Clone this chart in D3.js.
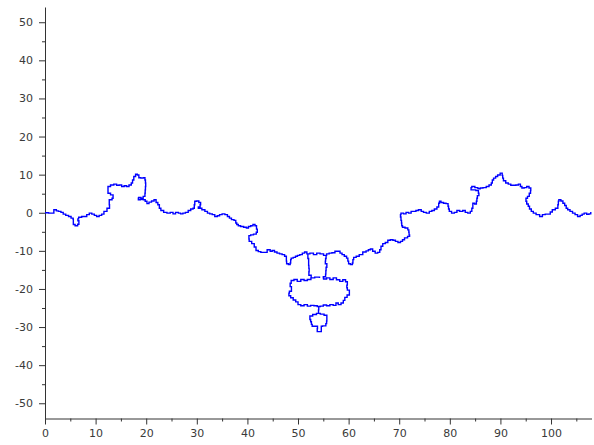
<!DOCTYPE html>
<html>
<head>
<meta charset="utf-8">
<script src="https://cdn.jsdelivr.net/npm/d3@7"></script>
<style>
  html, body { margin: 0; padding: 0; background: #fff; }
  svg { display: block; }
  .tick text { font-family: "DejaVu Sans", sans-serif; font-size: 11px; fill: #3a3a3a; }
</style>
</head>
<body>
<svg id="chart" width="594" height="445"></svg>
<script>
// Axis ranges and tick labels
const xDomain = [0, 108];
const yDomain = [-54, 54];
const xTicks = [0, 10, 20, 30, 40, 50, 60, 70, 80, 90, 100];
const xMinorTicks = [5, 15, 25, 35, 45, 55, 65, 75, 85, 95, 105];
const yTicks = [-50, -40, -30, -20, -10, 0, 10, 20, 30, 40, 50];
const yMinorTicks = [-45, -35, -25, -15, -5, 5, 15, 25, 35, 45];

// The curve, piece by piece, as [x, y] points
const westArm = [
  [0,0],[1.4,-0.1],[2.1,0.8],[2.4,0.5],[2.9,0.35],[3.4,0.1],[3.8,-0.35],[4.4,-0.7],[4.9,-1.0],[5.4,-1.4],
  [5.7,-1.7],[5.5,-2.3],[5.7,-3.1],[6.2,-3.4],[6.7,-3.0],[6.7,-2.1],[6.3,-1.6],[7.0,-1.2],[7.5,-1.0],[8.0,-1.0],
  [8.5,-0.5],[9.0,-0.1],[9.5,-0.35],[10.0,-0.7],[10.4,-1.0],[11.0,-0.7],[11.4,-0.35],[11.9,0.35],[12.6,1.2],[12.9,2.1],
  [12.5,2.5],[12.9,3.4],[13.6,3.8],[13.3,4.7],[12.6,5.1],[12.3,6.0],[12.6,6.9],[13.3,7.3],[13.9,7.5],[14.4,7.2],
  [14.9,7.3],[15.4,6.9],[15.9,7.1],[16.3,6.9],[16.9,7.3],[17.2,7.8],[17.4,8.6],[17.7,9.5],[18.1,10.1],[18.4,9.9],
  [18.7,9.2],[19.2,9.1],[19.6,9.2],[19.9,8.6],[19.8,7.8],[20.0,6.9],[19.7,6.0],[19.9,5.1],[19.6,4.3],[19.2,3.8],
  [18.7,4.0],[18.3,3.8],[18.6,3.4],[19.2,3.5],[19.6,3.4],[20.0,3.0],[20.3,2.4],[20.8,2.8],[21.3,3.1],[21.8,3.4],
  [22.1,2.7],[22.5,2.1],[22.7,1.2],[23.1,0.6],[23.8,0.1],[24.4,-0.1],[25.1,0.1],[25.5,-0.3],[26.1,0.1],[26.6,-0.1],
  [27.0,-0.3],[27.5,-0.1],[28.0,0.1],[28.6,0.6],[29.0,1.0],[29.5,1.2],[29.5,2.1],[29.7,3.0],[30.1,3.1],[30.7,2.7],
  [30.8,2.1],[30.5,1.5],[30.1,1.2],[30.7,1.2],[31.3,0.8],[31.9,0.35],[32.3,-0.1],[32.8,-0.3],[33.3,-0.5],[33.8,-1.0],
  [34.3,-0.8],[34.7,-0.5],[35.3,-0.3],[35.8,-0.5],[36.3,-1.0],[36.6,-1.4],[37.1,-1.8],[37.6,-2.0],[37.8,-2.7],[38.0,-3.1],
  [38.4,-3.4],[38.9,-3.6],[39.6,-3.8],[40.0,-4.0],[40.4,-3.6],[40.9,-3.4],[41.3,-3.1],[41.7,-3.4],[41.9,-4.3],[42.0,-5.1],
  [41.5,-5.6],[40.9,-5.8],[40.4,-6.0],[40.2,-6.9],[40.5,-7.5],[41.2,-8.1],[41.5,-9.0],[41.9,-9.9],[42.4,-10.2],[42.9,-10.4],
  [43.5,-10.4],[44.3,-9.7],[44.7,-10.1],[45.1,-9.9],[45.6,-10.3],[46.1,-10.6],[46.6,-10.8],[47.1,-11.0],[47.6,-11.4],[47.8,-12.0],
  [47.6,-12.7],[47.9,-13.4],[48.3,-13.6],[48.6,-13.2],[48.5,-12.3],[48.8,-11.9],[49.3,-11.7],[49.7,-11.4],[50.1,-11.2],[50.6,-11.0],
  [51.1,-10.6],[51.5,-10.3],[52.0,-10.8]
];

// Hanging structure under the middle: bridge, cloud, stem and pendant loops
const centreBridge = [
  [52.7,-10.6],[53.4,-11.0],[54.0,-10.6],[54.7,-10.8],[55.4,-11.2],
  [55.7,-12.0],[55.2,-12.7],[55.6,-13.4],[55.8,-14.3],[55.3,-15.2],[55.7,-16.1],[55.2,-16.8],[54.8,-17.1]
];
const centreCloud = [
  [55.3,-17.4],[56.0,-17.1],[56.6,-17.5],[57.3,-17.1],[57.9,-17.6],[58.6,-18.0],[59.1,-17.6],[59.7,-18.1],[59.8,-19.0],[59.5,-19.7],
  [60.0,-20.3],[60.3,-21.0],[60.0,-21.6],[59.4,-22.2],[59.1,-23.0],[58.8,-23.7],[58.2,-24.1],[57.7,-23.7],[57.3,-24.3],[56.6,-24.1],
  [56.0,-24.4],[55.3,-24.2],[54.7,-24.5],[54.1,-24.6],
  [54.1,-25.5],[54.0,-26.4],[54.8,-26.6],[55.5,-26.9],[55.9,-27.7],[55.5,-28.4],[55.8,-29.1],[55.2,-29.7],[54.5,-29.8],
  [54.7,-30.4],[54.5,-31.2],[53.9,-31.2],[53.7,-30.4],[54.0,-29.8],
  [53.1,-29.8],[52.5,-29.3],[52.8,-28.6],[52.2,-28.0],[52.5,-27.1],[53.3,-26.7],[54.0,-26.4],[54.1,-25.5],[54.1,-24.6],
  [53.5,-24.4],[52.8,-24.3],[52.2,-24.5],[51.5,-24.1],[50.9,-24.4],[50.2,-24.1],[49.8,-23.4],[49.3,-22.9],[48.8,-22.3],[48.3,-21.8],
  [48.1,-21.1],[48.5,-20.6],[48.9,-20.1],[48.5,-19.4],[48.4,-18.5],[48.9,-17.8],[49.5,-17.5],[50.2,-18.0],[50.9,-17.5],[51.5,-17.8],
  [52.2,-17.5],[52.9,-17.1],[53.7,-16.9],[54.8,-17.1],[53.7,-16.9],[52.9,-17.1],
  [52.3,-16.4],[52.0,-15.5],[52.4,-14.6],[51.9,-13.8],[52.3,-12.9],[51.9,-12.0],[52.0,-10.8],
  [52.7,-10.6],[53.4,-11.0],[54.0,-10.6],[54.7,-10.8],[55.4,-11.2]
];

const eastArm = [
  [55.9,-10.8],[56.4,-10.6],[57.0,-10.5],[57.6,-10.1],[58.1,-10.1],[58.5,-10.6],[58.9,-11.0],[59.4,-11.4],[59.8,-11.9],[59.9,-12.7],
  [60.1,-13.4],[60.6,-13.6],[60.9,-13.2],[60.8,-12.3],[61.2,-11.7],[61.8,-11.4],[62.4,-11.0],[63.2,-10.3],[63.7,-10.0],[64.1,-9.7],
  [64.5,-9.5],[65.0,-10.1],[65.5,-10.6],[66.0,-10.4],[66.3,-9.7],[66.5,-8.8],[67.0,-8.1],[67.5,-7.8],[68.0,-7.2],[68.5,-7.1],
  [69.0,-7.2],[69.5,-7.5],[70.0,-7.8],[70.5,-7.5],[70.8,-7.1],[71.3,-6.6],[72.0,-6.2],[72.1,-5.8],[71.8,-5.1],[72.0,-4.5],
  [71.4,-4.0],[70.9,-3.8],[70.4,-3.4],[70.6,-2.7],[70.3,-2.0],[70.4,-1.1],[70.1,-0.5],[70.6,-0.1],[71.1,-0.3],[71.6,0.1],
  [72.1,-0.1],[72.6,0.35],[73.1,0.35],[73.5,0.6],[74.1,0.8],[74.6,0.35],[75.0,0.1],[75.7,-0.1],[76.2,0.35],[76.7,0.6],
  [77.2,1.0],[77.7,1.5],[77.9,2.5],[78.0,3.0],[78.5,2.7],[79.0,2.5],[79.5,2.4],[79.8,1.7],[79.7,1.0],[80.1,0.35],
  [80.6,-0.1],[81.2,0.1],[81.6,0.6],[82.3,0.35],[82.8,0.6],[83.3,0.1],[83.8,-0.1],[84.3,0.35],[84.4,1.2],[84.7,2.5],
  [85.1,2.3],[85.4,3.0],[85.3,3.8],[85.6,4.5],[85.9,5.1],[85.4,5.8],[84.9,6.0],[84.3,6.0],[84.1,6.6],[84.6,6.9],
  [85.3,6.6],[85.8,6.3],[86.2,6.5],[86.9,6.6],[87.5,6.9],[88.0,7.3],[88.4,7.8],[88.4,8.6],[88.9,9.1],[89.2,9.5],
  [89.7,9.9],[90.2,10.4],[90.5,9.8],[90.4,9.1],[90.8,8.4],[91.3,7.8],[91.8,7.5],[92.3,7.2],[92.8,7.2],[93.3,7.3],
  [93.8,7.5],[94.1,6.9],[94.4,6.5],[95.0,6.6],[95.4,6.9],[95.9,6.5],[96.1,5.8],[95.8,5.1],[95.6,4.3],[95.1,3.8],
  [95.0,3.0],[95.4,2.3],[95.6,1.7],[95.9,1.0],[96.3,0.35],[96.7,-0.1],[97.4,-0.5],[98.1,-1.0],[98.5,-0.5],[99.2,-0.35],
  [99.7,-0.35],[100.0,0.2],[100.5,0.8],[101.2,1.2],[101.5,2.1],[101.4,3.0],[101.7,3.4],[102.2,3.1],[102.5,2.5],[102.9,1.9],
  [103.1,1.2],[103.5,0.8],[104.0,0.35],[104.5,-0.1],[105.0,-0.5],[105.5,-1.0],[106.0,-0.7],[106.3,-0.35],[106.8,-0.1],[107.3,-0.4],
  [107.7,-0.3],[108,0]
];

const curve = westArm.concat(centreBridge, centreCloud, eastArm);

const svg = d3.select("#chart");
const x = d3.scaleLinear().domain(xDomain).range([45, 591.5]);
const y = d3.scaleLinear().domain(yDomain).range([418.5, 7]);

const axisColour = "#333";

// Minor ticks (no labels)
svg.append("g")
  .attr("transform", `translate(0,${y(yDomain[0])})`)
  .call(d3.axisBottom(x).tickValues(xMinorTicks).tickSize(3).tickSizeOuter(0).tickFormat(""))
  .call(g => g.select(".domain").remove());
svg.append("g")
  .attr("transform", `translate(${x(xDomain[0])},0)`)
  .call(d3.axisLeft(y).tickValues(yMinorTicks).tickSize(3).tickSizeOuter(0).tickFormat(""))
  .call(g => g.select(".domain").remove());

// Major axes
svg.append("g")
  .attr("transform", `translate(0,${y(yDomain[0])})`)
  .call(d3.axisBottom(x).tickValues(xTicks).tickSize(6).tickPadding(5).tickSizeOuter(0).tickFormat(d3.format("d")));
svg.append("g")
  .attr("transform", `translate(${x(xDomain[0])},0)`)
  .call(d3.axisLeft(y).tickValues(yTicks).tickSize(6).tickPadding(6).tickSizeOuter(0)
        .tickFormat(d => d < 0 ? "-" + Math.abs(d) : String(d)));

svg.selectAll(".domain, .tick line").attr("stroke", axisColour);
svg.selectAll(".tick text").attr("font-family", null).attr("font-size", null);

// The fractal curve, drawn as axis-aligned steps
svg.append("path")
  .datum(curve)
  .attr("fill", "none")
  .attr("stroke", "#0000ff")
  .attr("stroke-width", 1.4)
  .attr("stroke-linejoin", "miter")
  .attr("d", d3.line().curve(d3.curveStep).x(d => x(d[0])).y(d => y(d[1])));
</script>
</body>
</html>
